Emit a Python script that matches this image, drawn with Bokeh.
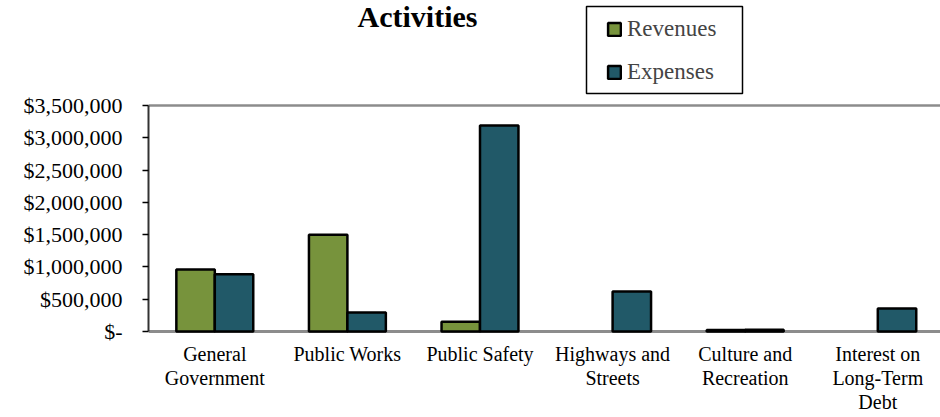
import numpy as np
from bokeh.plotting import figure
from bokeh.models import (ColumnDataSource, Range1d, FixedTicker, Label, Legend,
                          LegendItem, BoxAnnotation)
from bokeh.embed import file_html
from bokeh.resources import INLINE

categories = ["General\nGovernment", "Public Works", "Public Safety",
              "Highways and\nStreets", "Culture and\nRecreation",
              "Interest on\nLong-Term\nDebt"]
revenues = [960000, 1500000, 150000, 0, 25000, 0]
expenses = [885000, 295000, 3190000, 620000, 28000, 355000]
y_ticks = [0, 500000, 1000000, 1500000, 2000000, 2500000, 3000000, 3500000]
y_tick_labels = ["$-", "$500,000", "$1,000,000", "$1,500,000", "$2,000,000",
                 "$2,500,000", "$3,000,000", "$3,500,000"]
title_text = "Activities"
series_names = ["Revenues", "Expenses"]

GREEN = "#77933C"
TEAL = "#215968"
FONT = "Liberation Serif"

# layout (pixels)
W, H = 940, 417
LEFT, AXIS_Y = 148, 331
BELOW = 3                # frame extends a few px below the $0 line
PLOT_PX = 226            # pixel height from $0 to $3,500,000
CAT_PX = 132.6           # pixel width per category
XEND = (W - LEFT) / CAT_PX
YMAX = 3500000
YTOP = YMAX * AXIS_Y / PLOT_PX
YBOT = -YMAX * BELOW / PLOT_PX


def px_to_x(px):
    return (px - LEFT) / CAT_PX


def py_to_y(py):
    return (AXIS_Y - py) / PLOT_PX * YMAX


def drawn(vals):
    # zero-valued bars are not drawn (no outline), as in the original
    return [v if v > 0 else np.nan for v in vals]


centers = np.arange(len(categories)) + 0.5
bw = 0.29
src = ColumnDataSource(dict(
    xr=centers - bw / 2, xe=centers + bw / 2,
    rev=drawn(revenues), exp=drawn(expenses)))

p = figure(width=W, height=H, output_backend="svg", toolbar_location=None,
           x_range=Range1d(0, XEND), y_range=Range1d(YBOT, YTOP),
           min_border_left=LEFT, min_border_right=0,
           min_border_top=0, min_border_bottom=H - AXIS_Y - BELOW)
p.outline_line_color = None
p.xgrid.visible = False
p.ygrid.visible = False
p.background_fill_color = "white"
p.border_fill_color = "white"

# top border line and category axis line of the plot area
p.line(x=[0, XEND], y=[YMAX, YMAX], line_color="#8c8c8c", line_width=2.5)
p.line(x=[0, XEND], y=[0, 0], line_color="#8c8c8c", line_width=3)

r1 = p.vbar(x="xr", top="rev", width=bw, source=src, fill_color=GREEN,
            line_color="black", line_width=2.5)
r2 = p.vbar(x="xe", top="exp", width=bw, source=src, fill_color=TEAL,
            line_color="black", line_width=2.5)

# y axis
p.yaxis.ticker = FixedTicker(ticks=y_ticks)
p.yaxis.bounds = (0, YMAX)
p.yaxis.major_label_overrides = {t: l for t, l in zip(y_ticks, y_tick_labels)}
p.yaxis.minor_tick_line_color = None
p.yaxis.major_tick_in = 0
p.yaxis.major_tick_out = 6
p.yaxis.major_tick_line_width = 1.5
p.yaxis.axis_line_width = 2
p.yaxis.axis_line_color = "#333333"
p.yaxis.major_label_text_font = FONT
p.yaxis.major_label_text_font_size = "22px"
p.yaxis.major_label_text_color = "black"
p.yaxis.major_label_standoff = 20

# x axis (labels only; the line is drawn at $0 above)
p.xaxis.ticker = FixedTicker(ticks=list(centers))
p.xaxis.major_label_overrides = {float(c): l for c, l in zip(centers, categories)}
p.xaxis.minor_tick_line_color = None
p.xaxis.major_tick_line_color = None
p.xaxis.major_tick_out = 0
p.xaxis.major_tick_in = 0
p.xaxis.axis_line_color = None
p.xaxis.major_label_text_font = FONT
p.xaxis.major_label_text_font_size = "20px"
p.xaxis.major_label_text_line_height = 1.1
p.xaxis.major_label_text_color = "black"
p.xaxis.major_label_standoff = 8

title = Label(x=269, y=315 + BELOW, x_units="screen", y_units="screen",
              text=title_text, text_font=FONT, text_font_size="30px",
              text_font_style="bold", text_align="center",
              text_baseline="alphabetic", text_color="black")
p.add_layout(title)

# legend frame
box = BoxAnnotation(left=px_to_x(586), right=px_to_x(742),
                    top=py_to_y(6), bottom=py_to_y(93),
                    fill_color="white", fill_alpha=1.0,
                    line_color="black", line_width=1.5, line_alpha=1.0)
p.add_layout(box)

legend = Legend(items=[LegendItem(label=series_names[0], renderers=[r1]),
                       LegendItem(label=series_names[1], renderers=[r2])],
                location=(458, 245 + BELOW), orientation="vertical",
                label_text_font=FONT, label_text_font_size="23px",
                label_height=28, glyph_width=16, glyph_height=16,
                label_standoff=5, spacing=15, padding=0, margin=0,
                border_line_color=None, background_fill_alpha=0)
p.add_layout(legend, "center")

open("out.html", "w").write(file_html(p, INLINE))
